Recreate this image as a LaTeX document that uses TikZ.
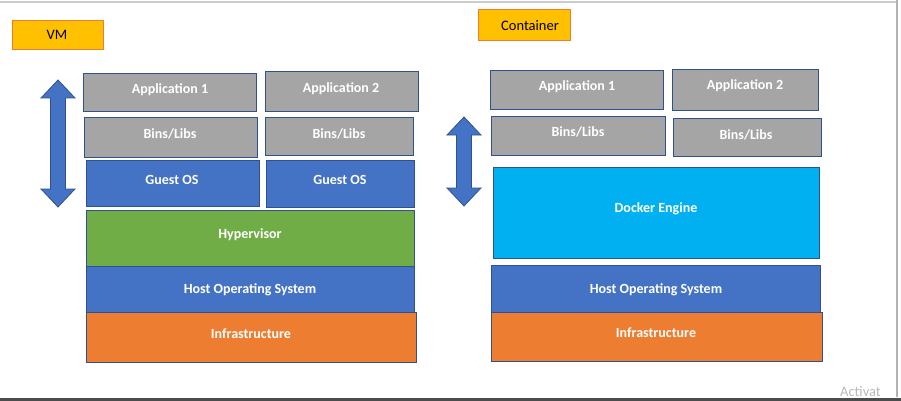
\documentclass[tikz,border=0pt]{standalone}
\usepackage{fontspec}
\setmainfont{Carlito}
\definecolor{cgray}{HTML}{A5A5A5}
\definecolor{cblue}{HTML}{4472C4}
\definecolor{cgreen}{HTML}{70AD47}
\definecolor{corange}{HTML}{ED7D31}
\definecolor{clight}{HTML}{00B0F0}
\definecolor{cyellow}{HTML}{FFC000}
\definecolor{cedge}{HTML}{2F528F}
\begin{document}
\begin{tikzpicture}[x=1pt,y=-1pt,
  layer/.style={draw=cedge,line width=0.9pt,anchor=north west,inner sep=0pt},
  ltext/.style={text=white,inner sep=0pt,yshift=-1.5pt,font=\bfseries\fontsize{14}{16}\selectfont},
  tag/.style={draw=corange,line width=0.9pt,fill=cyellow,anchor=north west,inner sep=0pt},
  ttext/.style={text=black,inner sep=0pt,font=\fontsize{14.5}{16}\selectfont},
  bigarrow/.style={draw=cedge,line width=0.8pt,fill=cblue}]
\useasboundingbox (0,0) rectangle (901,401);
\fill[white] (0,0) rectangle (901,401);
\draw[gray!40,line width=1.5pt] (0,2) -- (897,2);
\draw[gray!60,line width=1.2pt] (897,0) -- (897,397);
\fill[black!70] (0,397.5) rectangle (901,401);
\node[text=gray!55,anchor=base west,inner sep=0pt,font=\fontsize{14.5}{16}\selectfont] (wm) at (840,396.5) {Activat};
% labels
\node[tag,minimum width=91pt,minimum height=29pt] (vm) at (12,20) {};
\node[ttext] (vmt) at (57,35) {VM};
\node[tag,minimum width=92pt,minimum height=31pt] (ct) at (478,9) {};
\node[ttext] (ctt) at (530,25.5) {Container};
% VM stack
\node[layer,fill=cgray,minimum width=173pt,minimum height=38pt] (a1) at (83,73) {};
\node[ltext] at (170,88) {Application 1};
\node[layer,fill=cgray,minimum width=153pt,minimum height=40pt] (a2) at (265,71) {};
\node[ltext] at (341,87) {Application 2};
\node[layer,fill=cgray,minimum width=173pt,minimum height=40pt] (b1) at (84,117) {};
\node[ltext] at (170,132) {Bins/Libs};
\node[layer,fill=cgray,minimum width=148pt,minimum height=38pt] (b2) at (265,117) {};
\node[ltext] at (339,132) {Bins/Libs};
\node[layer,fill=cblue,minimum width=173pt,minimum height=46pt] (g1) at (86,160) {};
\node[ltext] at (172,178) {Guest OS};
\node[layer,fill=cblue,minimum width=148pt,minimum height=47pt] (g2) at (266,160) {};
\node[ltext] at (340,178) {Guest OS};
\node[layer,fill=cgreen,minimum width=328pt,minimum height=56pt] (hv) at (86,210) {};
\node[ltext] at (250,233) {Hypervisor};
\node[layer,fill=cblue,minimum width=328pt,minimum height=46pt] (ho) at (86,266) {};
\node[ltext] at (250,288) {Host Operating System};
\node[layer,fill=corange,minimum width=330pt,minimum height=50pt] (inf) at (86,312) {};
\node[ltext] at (251,332) {Infrastructure};
% Container stack
\node[layer,fill=cgray,minimum width=173pt,minimum height=39pt] (ca1) at (490,70) {};
\node[ltext] at (577,85) {Application 1};
\node[layer,fill=cgray,minimum width=146pt,minimum height=41pt] (ca2) at (672,69) {};
\node[ltext] at (745,84) {Application 2};
\node[layer,fill=cgray,minimum width=174pt,minimum height=39pt] (cb1) at (491,116) {};
\node[ltext] at (578,130) {Bins/Libs};
\node[layer,fill=cgray,minimum width=148pt,minimum height=38pt] (cb2) at (673,118) {};
\node[ltext] at (746,133) {Bins/Libs};
\node[layer,fill=clight,minimum width=326pt,minimum height=91pt] (de) at (493,167) {};
\node[ltext] at (656,207) {Docker Engine};
\node[layer,fill=cblue,minimum width=329pt,minimum height=47pt] (cho) at (491,265) {};
\node[ltext] at (656,288) {Host Operating System};
\node[layer,fill=corange,minimum width=331pt,minimum height=49pt] (cinf) at (491,312) {};
\node[ltext] at (656,331) {Infrastructure};
% double arrows
\draw[bigarrow] (58,80) -- (75,98) -- (65.5,98) -- (65.5,189) -- (75,189) -- (58,207)
  -- (41,189) -- (50.5,189) -- (50.5,98) -- (41,98) -- cycle;
\draw[bigarrow] (464,117) -- (481,135) -- (471.5,135) -- (471.5,188) -- (481,188) -- (464,206)
  -- (447,188) -- (456.5,188) -- (456.5,135) -- (447,135) -- cycle;
\end{tikzpicture}
\end{document}
